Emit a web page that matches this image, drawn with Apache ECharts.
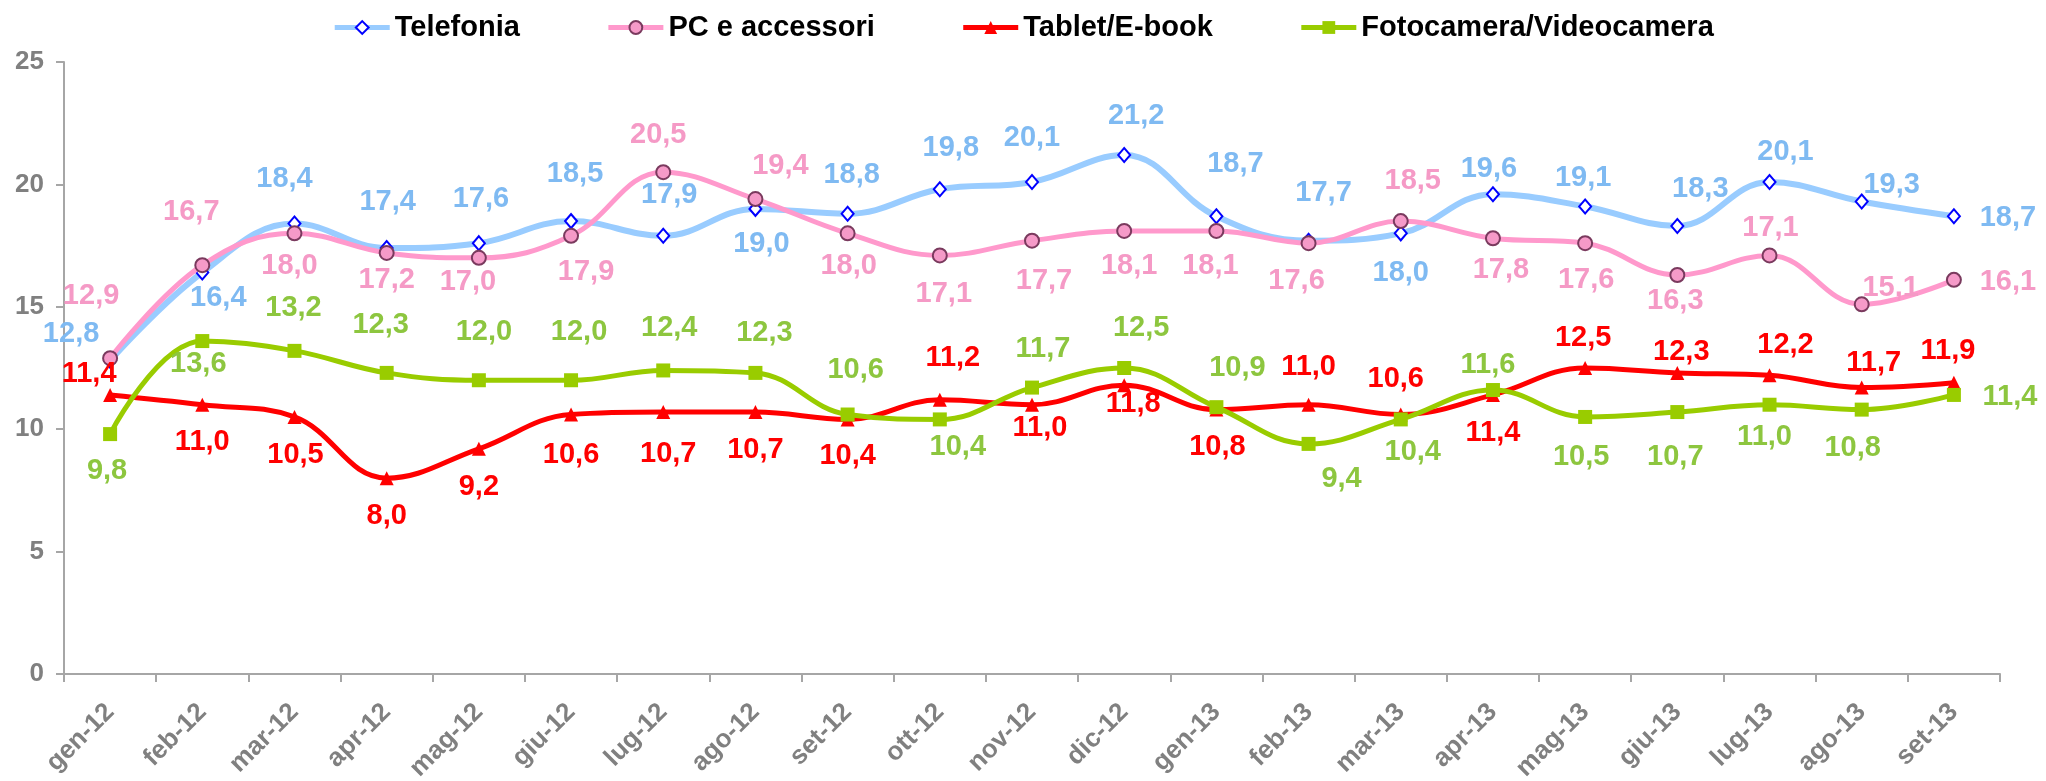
<!DOCTYPE html>
<html>
<head>
<meta charset="utf-8">
<script src="https://cdn.jsdelivr.net/npm/echarts@6/dist/echarts.min.js"></script>
<style>
  html, body { margin: 0; padding: 0; background: #fff; }
  #chart { width: 2046px; height: 781px; }
</style>
</head>
<body>
<div id="chart"></div>
<script>
// categorie (mesi)
const months = ['gen-12', 'feb-12', 'mar-12', 'apr-12', 'mag-12', 'giu-12', 'lug-12', 'ago-12', 'set-12', 'ott-12', 'nov-12', 'dic-12',
  'gen-13', 'feb-13', 'mar-13', 'apr-13', 'mag-13', 'giu-13', 'lug-13', 'ago-13', 'set-13']
const seriesNames = ['Telefonia', 'PC e accessori', 'Tablet/E-book', 'Fotocamera/Videocamera']
// valori
const telefonia = [12.8, 16.4, 18.4, 17.4, 17.6, 18.5, 17.9, 19.0, 18.8, 19.8, 20.1, 21.2, 18.7, 17.7, 18.0, 19.6, 19.1, 18.3, 20.1, 19.3, 18.7]
const pcAccessori = [12.9, 16.7, 18.0, 17.2, 17.0, 17.9, 20.5, 19.4, 18.0, 17.1, 17.7, 18.1, 18.1, 17.6, 18.5, 17.8, 17.6, 16.3, 17.1, 15.1, 16.1]
const tablet = [11.4, 11.0, 10.5, 8.0, 9.2, 10.6, 10.7, 10.7, 10.4, 11.2, 11.0, 11.8, 10.8, 11.0, 10.6, 11.4, 12.5, 12.3, 12.2, 11.7, 11.9]
const fotocamera = [9.8, 13.6, 13.2, 12.3, 12.0, 12.0, 12.4, 12.3, 10.6, 10.4, 11.7, 12.5, 10.9, 9.4, 10.4, 11.6, 10.5, 10.7, 11.0, 10.8, 11.4]
const yTicks = { min: 0, max: 25, interval: 5 }

// spostamento delle etichette rispetto al punto (px)
const telOffsets = [[-39, -27], [16, 25], [-10, -45], [1, -46], [2, -44], [4, -47], [6, -41], [6, 35], [4, -39], [11, -41], [0, -44],
  [12, -39], [19, -52], [15, -48], [0, 40], [-4, -25], [-2, -28], [23, -37], [16, -30], [30, -17], [54, 2]]
const pcOffsets = [[-19, -62], [-11, -53], [-5, 33], [0, 27], [-11, 24], [15, 36], [-5, -37], [25, -33], [1, 33], [4, 39], [12, 40],
  [5, 35], [-6, 35], [-12, 38], [12, -40], [8, 32], [1, 37], [-2, 26], [1, -27], [29, -16], [54, 2]]
const tabOffsets = [[-21, -21], [0, 37], [1, 38], [0, 38], [0, 38], [0, 40], [5, 42], [0, 38], [0, 37], [13, -42], [8, 23],
  [9, 19], [1, 37], [0, -38], [-5, -36], [0, 38], [-2, -30], [4, -21], [16, -30], [12, -25], [-6, -32]]
const fotoOffsets = [[-3, 37], [-4, 23], [-1, -43], [-6, -48], [5, -48], [8, -48], [6, -42], [9, -40], [8, -45], [18, 28], [11, -39],
  [17, -40], [21, -39], [33, 35], [12, 33], [-5, -25], [-4, 40], [-2, 45], [-5, 32], [-9, 38], [56, 2]]

const chart = echarts.init(document.getElementById('chart'))
const FONT = 'Liberation Sans, Arial, sans-serif'

function makeSeries(name, values, offsets, opt) {
  return {
    name: name,
    type: 'line',
    smooth: 0.4,
    data: values,
    symbol: opt.symbol,
    symbolSize: opt.symbolSize,
    lineStyle: { color: opt.line, width: opt.width },
    itemStyle: { color: opt.fill, borderColor: opt.border, borderWidth: opt.borderWidth },
    label: {
      show: true,
      position: 'inside',
      color: opt.labelColor,
      fontFamily: FONT,
      fontWeight: 'bold',
      fontSize: 29,
      formatter: (p) => p.value.toFixed(1).replace('.', ',')
    },
    // ogni etichetta viene spostata come nel grafico originale
    labelLayout: (params) => ({
      dx: offsets[params.dataIndex][0],
      dy: offsets[params.dataIndex][1],
      hideOverlap: false
    }),
    emphasis: { disabled: true },
    z: opt.z
  }
}

const option = {
  backgroundColor: '#fff',
  animation: false,
  legend: {
    top: 8,
    left: 'center',
    itemWidth: 55,
    itemHeight: 16,
    itemGap: 86,
    lineStyle: { width: 5 },
    textStyle: { fontFamily: FONT, fontWeight: 'bold', fontSize: 29, color: '#000' },
    data: seriesNames
  },
  grid: { left: 64, right: 46, top: 62, bottom: 107, containLabel: false, outerBoundsMode: 'none' },
  xAxis: {
    type: 'category',
    data: months,
    boundaryGap: true,
    axisLine: { lineStyle: { color: '#a6a6a6', width: 2 } },
    axisTick: { show: true, length: 8, lineStyle: { color: '#a6a6a6', width: 2 } },
    axisLabel: {
      rotate: 45,
      margin: 34,
      interval: 0,
      color: '#808080',
      fontFamily: FONT,
      fontWeight: 'bold',
      fontSize: 26
    },
    splitLine: { show: false }
  },
  yAxis: {
    type: 'value',
    min: yTicks.min,
    max: yTicks.max,
    interval: yTicks.interval,
    axisLine: { show: true, lineStyle: { color: '#a6a6a6', width: 2 } },
    axisTick: { show: true, length: 8, lineStyle: { color: '#a6a6a6', width: 2 } },
    axisLabel: { margin: 20, color: '#808080', fontFamily: FONT, fontWeight: 'bold', fontSize: 26 },
    splitLine: { show: false }
  },
  series: [
    makeSeries(seriesNames[0], telefonia, telOffsets, {
      symbol: 'diamond', symbolSize: [12, 14], line: '#99CCFF', width: 6,
      fill: '#ffffff', border: '#0000FF', borderWidth: 2, labelColor: '#7FBAF2', z: 2
    }),
    makeSeries(seriesNames[1], pcAccessori, pcOffsets, {
      symbol: 'circle', symbolSize: 14, line: '#FF99CC', width: 5,
      fill: '#F59AC8', border: '#7A3A5E', borderWidth: 2, labelColor: '#F59AC6', z: 3
    }),
    makeSeries(seriesNames[2], tablet, tabOffsets, {
      symbol: 'triangle', symbolSize: 14, line: '#FF0000', width: 5,
      fill: '#FF0000', border: '#FF0000', borderWidth: 0, labelColor: '#FF0000', z: 4
    }),
    makeSeries(seriesNames[3], fotocamera, fotoOffsets, {
      symbol: 'rect', symbolSize: 14, line: '#99CC00', width: 5,
      fill: '#99CC00', border: '#99CC00', borderWidth: 0, labelColor: '#8DC63F', z: 5
    })
  ]
}

chart.setOption(option)
</script>
</body>
</html>
